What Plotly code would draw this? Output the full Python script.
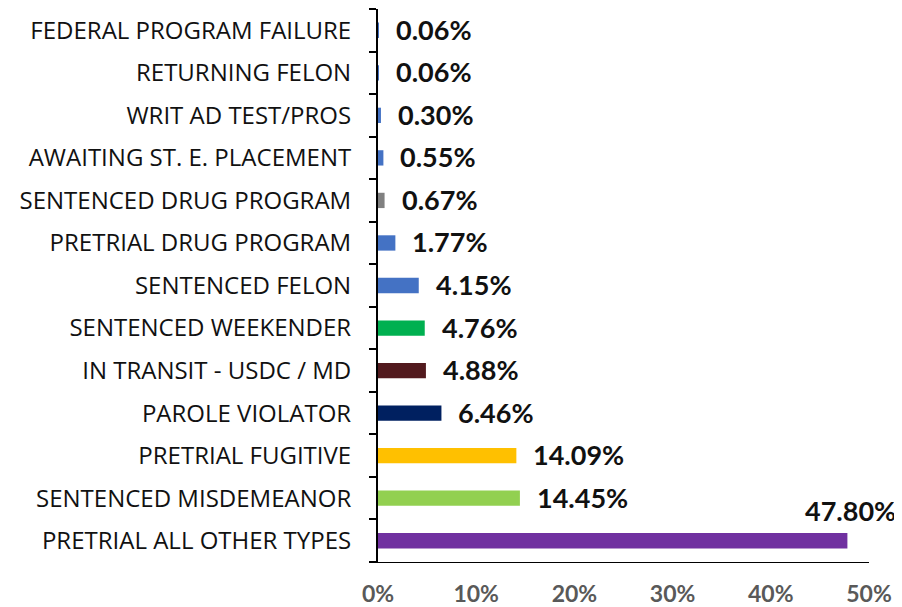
import plotly.graph_objects as go

categories = [
    "PRETRIAL ALL OTHER TYPES", "SENTENCED MISDEMEANOR", "PRETRIAL FUGITIVE",
    "PAROLE VIOLATOR", "IN TRANSIT - USDC / MD", "SENTENCED WEEKENDER",
    "SENTENCED FELON", "PRETRIAL DRUG PROGRAM", "SENTENCED DRUG PROGRAM",
    "AWAITING ST. E. PLACEMENT", "WRIT AD TEST/PROS", "RETURNING FELON",
    "FEDERAL PROGRAM FAILURE",
]
values = [47.80, 14.45, 14.09, 6.46, 4.88, 4.76, 4.15, 1.77, 0.67, 0.55, 0.30, 0.06, 0.06]
colors = [
    "#7030A0", "#92D050", "#FFC000", "#002060", "#521A1E", "#00B050",
    "#4472C4", "#4472C4", "#808080", "#4472C4", "#4472C4", "#4472C4", "#4472C4",
]
x_ticks = [0, 10, 20, 30, 40, 50]

fig = go.Figure(go.Bar(
    y=categories, x=values, orientation="h",
    marker=dict(color=colors, line=dict(width=0)),
    width=0.36,
))

annotations = []
for i, (c, v) in enumerate(zip(categories, values)):
    if i == 0:
        annotations.append(dict(x=v, y=c, xref="x", yref="y", text=f"<b>{v:.2f}%</b>",
                                showarrow=False, xanchor="center", yanchor="middle",
                                xshift=3, yshift=30,
                                font=dict(family="Lato", size=27, color="#111111")))
    else:
        annotations.append(dict(x=v, y=c, xref="x", yref="y", text=f"<b>{v:.2f}%</b>",
                                showarrow=False, xanchor="left", yanchor="middle",
                                xshift=15, yshift=1,
                                font=dict(family="Lato", size=27, color="#111111")))

fig.update_layout(
    width=902, height=607,
    margin=dict(l=370, r=41, t=1, b=53),
    plot_bgcolor="white", paper_bgcolor="white",
    showlegend=False,
    annotations=annotations,
    font=dict(family="Lato"),
)
fig.update_xaxes(
    range=[0, 50], tickvals=x_ticks, ticktext=[f"<b>{t}%</b>" for t in x_ticks],
    showgrid=False, zeroline=False, showline=True, linecolor="black", linewidth=1,
    ticks="", tickfont=dict(family="Lato", size=23, color="#595959"),
    ticklabelstandoff=11, automargin=False,
)
fig.update_yaxes(
    categoryorder="array", categoryarray=categories,
    showgrid=False, showline=True, linecolor="black", linewidth=2,
    ticks="outside", ticklen=7, tickwidth=2, tickcolor="black", tickson="boundaries",
    tickfont=dict(family="Open Sans", size=24, color="#111111"),
    ticklabelstandoff=20, automargin=False,
)
fig.write_html("out.html")
